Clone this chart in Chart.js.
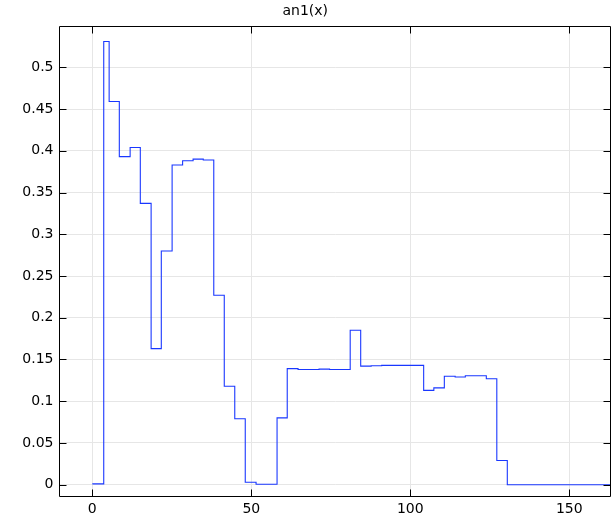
<!DOCTYPE html>
<html>
<head>
<meta charset="utf-8">
<script src="https://cdn.jsdelivr.net/npm/chart.js@4/dist/chart.umd.min.js"></script>
<style>
  html, body { margin: 0; padding: 0; background: #fff; }
  #wrap { width: 614px; height: 519px; }
</style>
</head>
<body>
<div id="wrap"><canvas id="c" width="614" height="519"></canvas></div>
<script>
// Step edges (x) and the value held on each interval [xEdges[i], xEdges[i+1]]
const xEdges = [0, 3.6, 5.3, 8.5, 11.9, 15.1, 18.5, 21.7, 25.1, 28.4,
                31.7, 34.9, 38.2, 41.5, 44.8, 48.1, 51.5, 58.1, 61.3, 64.7,
                71.3, 74.6, 81.1, 84.4, 87.7, 91.0, 104.2, 107.4, 110.7, 114.1,
                117.3, 123.9, 127.2, 130.5, 165];
const yValues = [0.001, 0.531, 0.459, 0.393, 0.404, 0.337, 0.163, 0.280, 0.383, 0.388,
                 0.390, 0.389, 0.227, 0.118, 0.079, 0.003, 0.0005, 0.080, 0.139, 0.138,
                 0.1385, 0.138, 0.185, 0.142, 0.1425, 0.143, 0.113, 0.116, 0.130, 0.129,
                 0.1305, 0.127, 0.029, 0];
const xTicks = [0, 50, 100, 150];
const yTicks = [0, 0.05, 0.1, 0.15, 0.2, 0.25, 0.3, 0.35, 0.4, 0.45, 0.5];
const titleText = 'an1(x)';

const points = yValues.map((v, i) => ({ x: xEdges[i], y: v }));
points.push({ x: xEdges[xEdges.length - 1], y: yValues[yValues.length - 1] });

const FONT = { family: '"DejaVu Sans", sans-serif', size: 14 };

const framePlugin = {
  id: 'frame',
  afterDraw(chart) {
    const { ctx, chartArea: a, scales } = chart;
    ctx.save();
    ctx.strokeStyle = '#000';
    ctx.lineWidth = 1;
    ctx.beginPath();
    ctx.rect(a.left, a.top, a.right - a.left, a.bottom - a.top);
    ctx.stroke();
    const L = 7;
    ctx.beginPath();
    scales.x.ticks.forEach(t => {
      const px = Math.round(scales.x.getPixelForValue(t.value)) + 0.5;
      ctx.moveTo(px, a.bottom); ctx.lineTo(px, a.bottom - L);
      ctx.moveTo(px, a.top); ctx.lineTo(px, a.top + L);
    });
    scales.y.ticks.forEach(t => {
      const py = Math.round(scales.y.getPixelForValue(t.value)) + 0.5;
      ctx.moveTo(a.left, py); ctx.lineTo(a.left + L, py);
      ctx.moveTo(a.right, py); ctx.lineTo(a.right - L, py);
    });
    ctx.stroke();
    ctx.restore();
  }
};

new Chart(document.getElementById('c'), {
  type: 'scatter',
  data: {
    datasets: [{
      data: points,
      showLine: true,
      stepped: 'before',
      borderColor: 'rgb(25,55,255)',
      borderWidth: 1.1,
      pointRadius: 0,
      fill: false
    }]
  },
  options: {
    responsive: false,
    animation: false,
    layout: { padding: { left: 0, right: 3.5, top: 0, bottom: 0 } },
    plugins: {
      legend: { display: false },
      tooltip: { enabled: false },
      title: {
        display: true,
        text: titleText,
        color: '#000',
        font: { family: FONT.family, size: 14, weight: 'normal' },
        padding: { top: 3, bottom: 6.7 }
      }
    },
    scales: {
      x: {
        type: 'linear',
        min: -10.31,
        max: 162.95,
        afterBuildTicks: s => { s.ticks = xTicks.map(v => ({ value: v })); },
        afterFit: s => { s.height = 22.5; },
        ticks: { color: '#000', font: FONT, padding: 4, callback: v => String(v) },
        grid: { color: '#e6e6e6', drawTicks: false },
        border: { display: false }
      },
      y: {
        type: 'linear',
        min: -0.01414,
        max: 0.5489,
        afterBuildTicks: s => { s.ticks = yTicks.map(v => ({ value: v })); },
        afterFit: s => { s.width = 59.5; },
        ticks: { color: '#000', font: FONT, padding: 6, callback: v => String(+Number(v).toFixed(2)) },
        grid: { color: '#e6e6e6', drawTicks: false },
        border: { display: false }
      }
    }
  },
  plugins: [framePlugin]
});
</script>
</body>
</html>
